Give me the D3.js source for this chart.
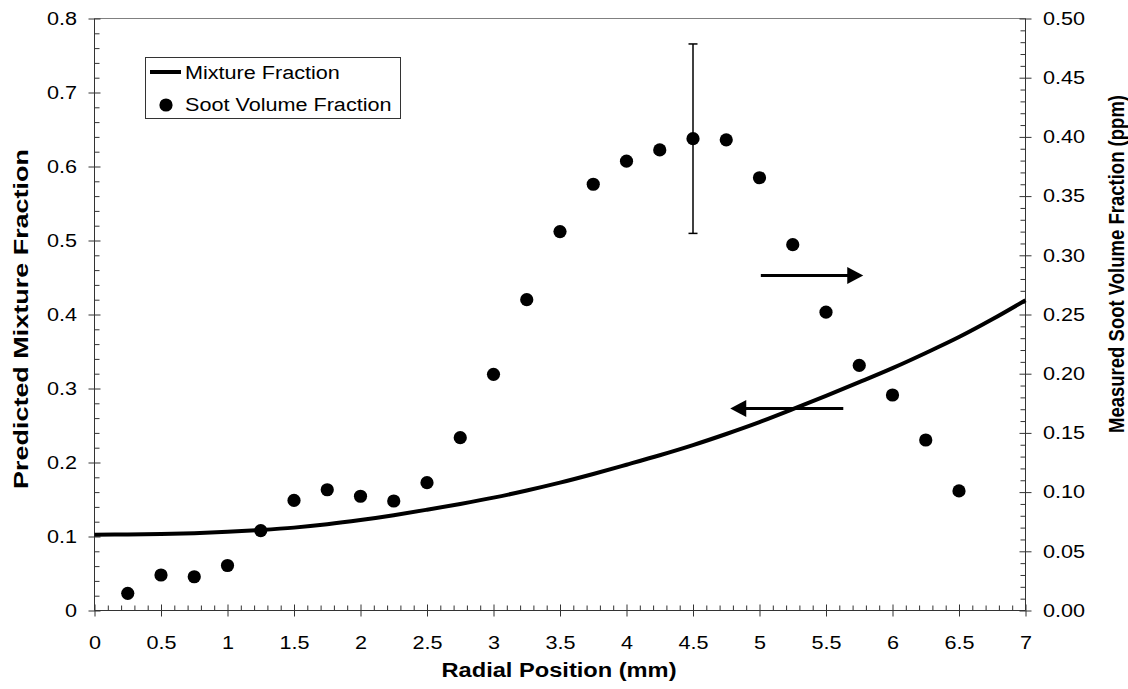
<!DOCTYPE html>
<html>
<head>
<meta charset="utf-8">
<script src="https://cdn.jsdelivr.net/npm/d3@7"></script>
<style>
  html, body { margin: 0; padding: 0; background: #fff; }
  svg { display: block; }
</style>
</head>
<body>
<svg id="chart" width="1128" height="689"></svg>
<script>
// Measured soot volume fraction (ppm) against radial position (mm)
const sootRadius = [0.25, 0.5, 0.75, 1.0, 1.25, 1.5, 1.75, 2.0, 2.25, 2.5, 2.75, 3.0, 3.25,
                    3.5, 3.75, 4.0, 4.25, 4.5, 4.75, 5.0, 5.25, 5.5, 5.75, 6.0, 6.25, 6.5];
const sootPpm    = [0.0145, 0.030, 0.0285, 0.038, 0.0675, 0.093, 0.102, 0.0965, 0.0925, 0.108, 0.146, 0.1995, 0.2625,
                    0.320, 0.360, 0.3795, 0.389, 0.3985, 0.3975, 0.3655, 0.309, 0.252, 0.207, 0.182, 0.144, 0.101];

// Uncertainty bar on the peak measurement
const errRadius = [4.5];
const errValue  = [0.3985];
const errHalf   = [0.080];

// Predicted mixture fraction profile
const mixRadius   = [0, 0.25, 0.5, 0.75, 1.0, 1.25, 1.5, 1.75, 2.0, 2.25, 2.5, 2.75, 3.0, 3.25,
                     3.5, 3.75, 4.0, 4.25, 4.5, 4.75, 5.0, 5.25, 5.5, 5.75, 6.0, 6.25, 6.5, 6.75, 7.0];
const mixFraction = [0.1025, 0.1027, 0.1033, 0.1045, 0.1063, 0.1088, 0.1120, 0.1165, 0.1222, 0.1288, 0.1362, 0.1440, 0.1525, 0.1622,
                     0.1728, 0.1845, 0.1970, 0.2098, 0.2235, 0.2385, 0.2545, 0.2720, 0.2900, 0.3085, 0.3275, 0.3480, 0.3695, 0.3935, 0.4193];

// Axis ticks and labels
const xTicks      = [0, 0.5, 1, 1.5, 2, 2.5, 3, 3.5, 4, 4.5, 5, 5.5, 6, 6.5, 7];
const xTickLabels = ["0", "0.5", "1", "1.5", "2", "2.5", "3", "3.5", "4", "4.5", "5", "5.5", "6", "6.5", "7"];
const leftTicks   = [0, 0.1, 0.2, 0.3, 0.4, 0.5, 0.6, 0.7, 0.8];
const leftLabels  = ["0", "0.1", "0.2", "0.3", "0.4", "0.5", "0.6", "0.7", "0.8"];
const rightTicks  = [0, 0.05, 0.10, 0.15, 0.20, 0.25, 0.30, 0.35, 0.40, 0.45, 0.50];
const rightLabels = ["0.00", "0.05", "0.10", "0.15", "0.20", "0.25", "0.30", "0.35", "0.40", "0.45", "0.50"];

// Direction arrows: which axis each series belongs to
const arrowToRight = { x: [5.01, 5.78], y: 0.283 };   // right-axis value
const arrowToLeft  = { x: [5.63, 4.78], y: 0.273 };   // left-axis value

const X0 = 94.5, X1 = 1025.5, Y0 = 18.5, Y1 = 610.5;
const FONT = "'Liberation Sans', Arial, sans-serif";
const STRETCH = 1.2;

const svg = d3.select("#chart");

const x  = d3.scaleLinear().domain([0, 7]).range([X0, X1]);
const yL = d3.scaleLinear().domain([0, 0.8]).range([Y1, Y0]);
const yR = d3.scaleLinear().domain([0, 0.5]).range([Y1, Y0]);

// widen glyphs horizontally to the chart's lettering proportions
function stretch(sel, k) {
  sel.each(function () {
    const w = this.getComputedTextLength();
    d3.select(this).attr("textLength", w * k).attr("lengthAdjust", "spacingAndGlyphs");
  });
}

// top frame line
svg.append("line")
  .attr("x1", X0).attr("x2", X1).attr("y1", Y0).attr("y2", Y0)
  .attr("stroke", "#808080").attr("stroke-width", 1);

const axisColor = "#333";

function styleAxis(g) {
  g.attr("color", axisColor);
  g.select(".domain").remove();
  g.selectAll(".tick text")
    .attr("fill", "#000")
    .style("font-family", FONT)
    .style("font-size", "18px");
}

// --- left axis ---
const minorLeft = d3.range(0, 0.8001, 0.02).filter(v => Math.abs(v * 10 - Math.round(v * 10)) > 1e-6);
svg.append("g").attr("transform", `translate(${X0},0)`)
  .call(d3.axisLeft(yL).tickValues(minorLeft).tickSize(-5).tickSizeOuter(0).tickFormat(""))
  .call(g => { g.attr("color", axisColor); g.select(".domain").remove(); });
const gL = svg.append("g").attr("transform", `translate(${X0},0)`)
  .call(d3.axisLeft(yL).tickValues(leftTicks).tickFormat((d, i) => leftLabels[i])
        .tickSize(6).tickSizeOuter(0).tickPadding(11.5))
  .call(styleAxis);
gL.selectAll(".tick line").attr("x1", 6);
gL.append("line").attr("y1", Y0).attr("y2", Y1).attr("stroke", axisColor);
stretch(gL.selectAll(".tick text"), STRETCH);

// --- right axis ---
const minorRight = d3.range(0, 0.5001, 0.01).filter(v => Math.abs(v * 20 - Math.round(v * 20)) > 1e-6);
svg.append("g").attr("transform", `translate(${X1},0)`)
  .call(d3.axisRight(yR).tickValues(minorRight).tickSize(-5).tickSizeOuter(0).tickFormat(""))
  .call(g => { g.attr("color", axisColor); g.select(".domain").remove(); });
const gR = svg.append("g").attr("transform", `translate(${X1},0)`)
  .call(d3.axisRight(yR).tickValues(rightTicks).tickFormat((d, i) => rightLabels[i])
        .tickSize(6).tickSizeOuter(0).tickPadding(11.5))
  .call(styleAxis);
gR.selectAll(".tick line").attr("x1", -6);
gR.append("line").attr("y1", Y0).attr("y2", Y1).attr("stroke", axisColor);
stretch(gR.selectAll(".tick text"), STRETCH);

// --- bottom axis ---
const minorX = d3.range(0, 7.0001, 0.1).filter(v => Math.abs(v * 2 - Math.round(v * 2)) > 1e-6);
svg.append("g").attr("transform", `translate(0,${Y1})`)
  .call(d3.axisBottom(x).tickValues(minorX).tickSize(-5).tickSizeOuter(0).tickFormat(""))
  .call(g => { g.attr("color", axisColor); g.select(".domain").remove(); });
const gX = svg.append("g").attr("transform", `translate(0,${Y1})`)
  .call(d3.axisBottom(x).tickValues(xTicks).tickFormat((d, i) => xTickLabels[i])
        .tickSize(6).tickSizeOuter(0).tickPadding(20))
  .call(styleAxis);
gX.selectAll(".tick line").attr("y1", -6);
gX.append("line").attr("x1", X0).attr("x2", X1).attr("stroke", axisColor);
stretch(gX.selectAll(".tick text"), STRETCH);

// --- axis titles ---
svg.append("text")
  .attr("x", 559).attr("y", 677)
  .attr("text-anchor", "middle")
  .style("font-family", FONT).style("font-size", "20px").style("font-weight", "bold")
  .text("Radial Position (mm)")
  .attr("textLength", 235).attr("lengthAdjust", "spacingAndGlyphs");

svg.append("text")
  .attr("transform", "translate(28,319) rotate(-90)")
  .attr("text-anchor", "middle")
  .style("font-family", FONT).style("font-size", "20px").style("font-weight", "bold")
  .text("Predicted Mixture Fraction")
  .attr("textLength", 340).attr("lengthAdjust", "spacingAndGlyphs");

svg.append("text")
  .attr("transform", `translate(1124,264) scale(${STRETCH},1) rotate(-90)`)
  .attr("text-anchor", "middle")
  .style("font-family", FONT).style("font-size", "18.5px").style("font-weight", "bold")
  .text("Measured Soot Volume Fraction (ppm)")
  .attr("textLength", 338).attr("lengthAdjust", "spacingAndGlyphs");

// --- mixture fraction curve (left axis) ---
const mixLine = d3.line()
  .x((d, i) => x(mixRadius[i]))
  .y(d => yL(d))
  .curve(d3.curveMonotoneX);
svg.append("path")
  .datum(mixFraction)
  .attr("d", mixLine)
  .attr("fill", "none")
  .attr("stroke", "#000")
  .attr("stroke-width", 4);

// --- error bar (right axis) ---
const eb = svg.append("g").attr("stroke", "#000").attr("stroke-width", 1.5);
errRadius.forEach((r, i) => {
  const cx = x(r), top = yR(errValue[i] + errHalf[i]), bot = yR(errValue[i] - errHalf[i]);
  eb.append("line").attr("x1", cx).attr("x2", cx).attr("y1", top).attr("y2", bot);
  eb.append("line").attr("x1", cx - 4.5).attr("x2", cx + 4.5).attr("y1", top).attr("y2", top);
  eb.append("line").attr("x1", cx - 4.5).attr("x2", cx + 4.5).attr("y1", bot).attr("y2", bot);
});

// --- soot measurements (right axis) ---
svg.append("g").selectAll("circle")
  .data(sootPpm)
  .join("circle")
  .attr("cx", (d, i) => x(sootRadius[i]))
  .attr("cy", d => yR(d))
  .attr("r", 6.6)
  .attr("fill", "#000");

// --- arrows pointing to each series' axis ---
function arrow(xa, xb, yPix) {
  const xs = x(xa), xe = x(xb), dir = Math.sign(xe - xs);
  const head = 16, half = 8.5;
  svg.append("line")
    .attr("x1", xs).attr("x2", xe - dir * (head - 2))
    .attr("y1", yPix).attr("y2", yPix)
    .attr("stroke", "#000").attr("stroke-width", 3);
  svg.append("path")
    .attr("d", `M${xe},${yPix} L${xe - dir * head},${yPix - half} L${xe - dir * head},${yPix + half} Z`)
    .attr("fill", "#000");
}
arrow(arrowToRight.x[0], arrowToRight.x[1], yR(arrowToRight.y));
arrow(arrowToLeft.x[0], arrowToLeft.x[1], yL(arrowToLeft.y));

// --- legend ---
const lg = svg.append("g");
lg.append("rect")
  .attr("x", 145.5).attr("y", 57.5).attr("width", 255).attr("height", 61)
  .attr("fill", "#fff").attr("stroke", "#333").attr("stroke-width", 1);
lg.append("line")
  .attr("x1", 150).attr("x2", 181).attr("y1", 72).attr("y2", 72)
  .attr("stroke", "#000").attr("stroke-width", 4);
lg.append("circle").attr("cx", 166).attr("cy", 105).attr("r", 6.6).attr("fill", "#000");
const lgText = lg.selectAll("text.item")
  .data(["Mixture Fraction", "Soot Volume Fraction"])
  .join("text")
  .attr("class", "item")
  .attr("x", 185)
  .attr("y", (d, i) => i === 0 ? 79 : 111)
  .style("font-family", FONT).style("font-size", "18px")
  .attr("fill", "#000")
  .text(d => d);
stretch(lgText, STRETCH);
</script>
</body>
</html>
